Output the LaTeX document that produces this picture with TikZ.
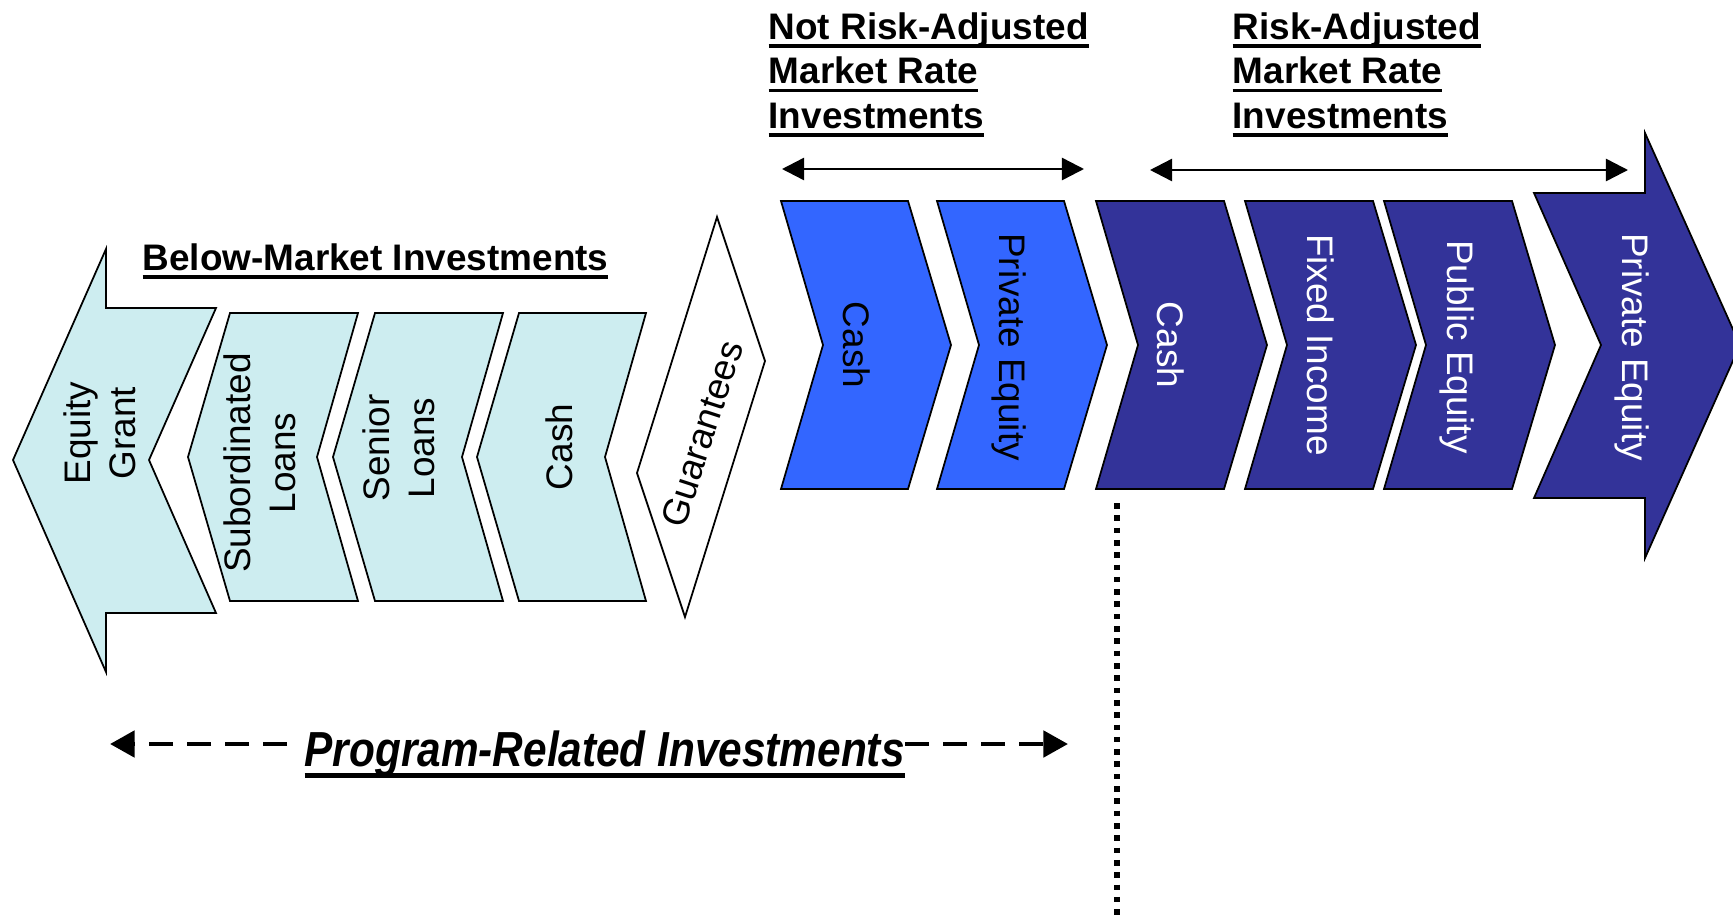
\documentclass[tikz,border=0pt]{standalone}
\usepackage{fontspec}
\setmainfont{Liberation Sans}
\newfontfamily\narrowfont[FakeStretch=0.86]{Liberation Sans}
\usetikzlibrary{arrows.meta}

\definecolor{paleaqua}{RGB}{205,237,240}
\definecolor{brightblue}{RGB}{51,102,255}
\definecolor{deepblue}{RGB}{51,51,153}

% heavy underline, scaled with the font
\newsavebox\ulbox
\newcommand{\ulined}[1]{\sbox\ulbox{#1}\rlap{\rule[-0.24em]{\wd\ulbox}{0.095em}}\usebox\ulbox}

\tikzset{
  piece/.style={draw=black, line width=0.5pt},
  lbl/.style={font=\fontsize{10.5}{12.8}\selectfont, align=center, inner sep=0pt},
  heading/.style={font=\fontsize{10.5}{11.4}\selectfont\bfseries, anchor=base west, inner sep=0pt},
  span/.style={line width=0.7pt, {Triangle[length=6.3pt,width=6.3pt]}-{Triangle[length=6.3pt,width=6.3pt]}},
  prispan/.style={line width=1.4pt, dash pattern=on 6.8pt off 4pt, -{Triangle[length=7pt,width=7.4pt]}},
  dotline/.style={line width=1.6pt, dash pattern=on 1.6pt off 1.9pt}
}

\begin{document}
\begin{tikzpicture}[x=0.01cm, y=-0.01cm]
\useasboundingbox (0,0) rectangle (1733,921);

% below-market side, pointing left
\draw[piece, fill=paleaqua] (13,460) -- (106,249) -- (106,308) -- (216,308) -- (149,460)
  -- (216,613) -- (106,613) -- (106,672) -- cycle;
\foreach \l/\r in {230/358, 375/503, 519/646}
  \draw[piece, fill=paleaqua] (\l,313) -- (\r,313) -- (\r-41,457) -- (\r,601) -- (\l,601) -- (\l-42,457) -- cycle;
\draw[piece, fill=white] (717,217) -- (765,361) -- (685,617) -- (637,473) -- cycle;

% market rate side, pointing right
\foreach \l/\r/\col in {781/908/brightblue, 937/1064/brightblue, 1096/1224/deepblue,
                        1245/1373/deepblue, 1384/1512/deepblue}
  \draw[piece, fill=\col] (\l,201) -- (\r,201) -- (\r+43,345) -- (\r,489) -- (\l,489) -- (\l+42,345) -- cycle;
\draw[piece, fill=deepblue] (1534,193) -- (1645,193) -- (1645,133) -- (1740,345) -- (1645,558)
  -- (1645,498) -- (1534,498) -- (1601,345) -- cycle;

% labels
\node[lbl, rotate=90] (eqgrant) at (100,433) {Equity\\Grant};
\node[lbl, rotate=90] (subloans) at (260,463) {Subordinated\\Loans};
\node[lbl, rotate=90] (senloans) at (399,448) {Senior\\Loans};
\node[lbl, rotate=90] (bmcash) at (559,447) {Cash};
\node[lbl, rotate=72] (guar) at (702,434) {Guarantees};
\node[lbl, rotate=-90] (nracash) at (857,345) {Cash};
\node[lbl, rotate=-90] (nrape) at (1009,347) {Private Equity};
\node[lbl, rotate=-90, text=white] (racash) at (1171,345) {Cash};
\node[lbl, rotate=-90, text=white] (fixinc) at (1321,345) {Fixed Income};
\node[lbl, rotate=-90, text=white] (pubeq) at (1457,347) {Public Equity};
\node[lbl, rotate=-90, text=white] (priveq) at (1632,347) {Private Equity};

% headings
\node[heading] (bmtitle) at (142,270) {\ulined{Below-Market Investments}};
\foreach \t [count=\i] in {Not Risk-Adjusted, Market Rate, Investments}
  \node[heading] (nra\i) at (768,-5.5+44.5*\i) {\ulined{\t}};
\foreach \t [count=\i] in {Risk-Adjusted, Market Rate, Investments}
  \node[heading] (ra\i) at (1232,-5.5+44.5*\i) {\ulined{\t}};

% spans
\coordinate (nral) at (782,169);
\coordinate (nrar) at (1084,169);
\coordinate (ral) at (1150,170);
\coordinate (rar) at (1628,170);
\draw[span] (nral) -- (nrar);
\draw[span] (ral) -- (rar);

\node[font=\narrowfont\fontsize{14}{16}\selectfont\bfseries\itshape, anchor=base west, inner sep=0pt]
  (prtext) at (304,766) {\ulined{Program-Related Investments}};
\coordinate (prl) at (110,744);
\coordinate (prr) at (1068,744);
\draw[prispan, shorten <=4.8pt] (prl -| prtext.west) -- (prl);
\draw[prispan] (prr -| prtext.east) -- (prr);

% divider
\coordinate (dottop) at (1117,503);
\coordinate (dotbot) at (1117,921);
\draw[dotline] (dottop) -- (dotbot);
\end{tikzpicture}
\end{document}
